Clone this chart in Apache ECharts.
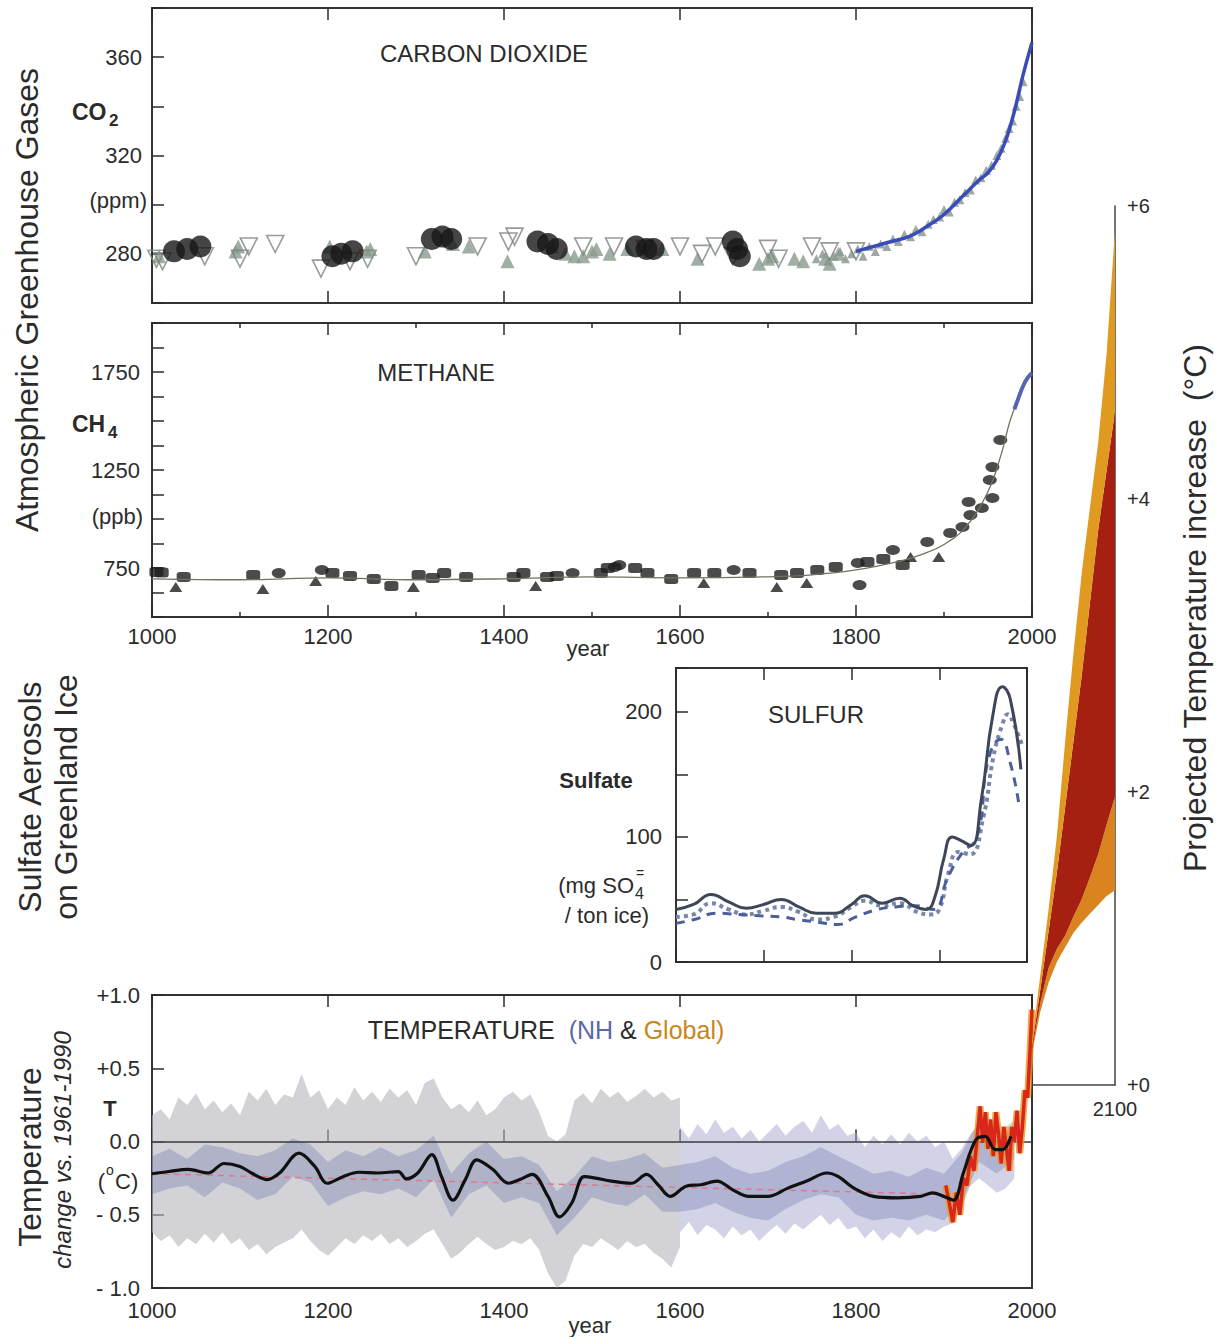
<!DOCTYPE html>
<html>
<head>
<meta charset="utf-8">
<title>Greenhouse gases, sulfate and temperature 1000-2100</title>
<script src="https://cdn.jsdelivr.net/npm/echarts@6.0.0/dist/echarts.min.js"></script>
<style>
  html, body { margin: 0; padding: 0; background: #fff; }
  #chart { width: 1217px; height: 1337px; }
</style>
</head>
<body>
<div id="chart"></div>
<script>
// ---- tick labels
var yearLabels = [1000, 1200, 1400, 1600, 1800, 2000];
var co2LabelValues = [280, 320, 360];
var ch4LabelValues = [750, 1250, 1750];
var sulfLabelValues = [0, 100, 200];
var tempTickValues = [-1, -0.5, 0, 0.5, 1];
var tempTickLabels = ['- 1.0', '- 0.5', '0.0', '+0.5', '+1.0'];
var projTickValues = [0, 2, 4, 6];
var projTickLabels = ['+0', '+2', '+4', '+6'];

// ---- carbon dioxide (ppm)
var co2Circles = [[1025,281],[1040,282],[1055,283],[1205,279],[1215,280],[1228,281],[1318,286],[1330,287],[1340,286],
  [1438,285],[1450,284],[1460,282],[1550,283],[1562,282],[1570,282],[1660,285],[1665,282],[1668,279]];
var co2UpTri = [[1008,279],[1095,281],[1098,283],[1202,283],[1244,281],[1248,282],[1310,281],[1342,284],[1360,283],
  [1404,277],[1455,283],[1470,280],[1480,279],[1490,279],[1500,281],[1505,282],[1520,280],[1540,282],[1580,282],
  [1620,278],[1690,276],[1700,278],[1705,279],[1730,278],[1740,277],[1765,278],[1770,276],[1780,280]];
var co2DownTri = [[1005,278],[1012,277],[1060,279],[1100,278],[1110,283],[1140,284],[1192,274],[1225,277],[1245,278],
  [1300,279],[1370,283],[1405,285],[1412,287],[1490,283],[1525,283],[1560,282],[1600,283],[1625,280],[1640,283],
  [1660,279],[1700,282],[1712,278],[1750,283],[1770,281],[1800,281]];
var co2Recent = [[1755,278],[1762,280],[1768,277],[1775,279],[1782,281],[1788,278],[1795,280],[1802,282],[1808,279],
  [1815,283],[1822,281],[1828,284],[1835,283],[1842,286],[1848,285],[1855,288],[1862,287],[1868,290],[1875,289],
  [1882,292],[1888,294],[1895,295],[1900,298],[1906,297],[1912,301],[1918,302],[1924,305],[1930,306],[1936,310],
  [1942,311],[1948,314],[1954,316],[1960,320],[1965,323],[1970,327],[1974,331],[1978,334],[1982,340],[1986,344],[1990,350]];
var co2BlueYears = [1800,1820,1840,1860,1880,1900,1920,1940,1950,1960,1970,1980,1990,2000];
var co2Blue = [281,283,285,287,291,296,303,310,313,318,326,338,353,366];

// ---- methane (ppb)
var ch4Squares = [[1005,730],[1011,727],[1036,704],[1115,714],[1205,724],[1225,709],[1252,694],[1272,658],[1303,714],
  [1319,699],[1332,724],[1357,704],[1411,704],[1422,724],[1449,704],[1460,709],[1510,724],[1518,750],[1549,750],
  [1563,724],[1590,694],[1616,724],[1639,724],[1679,724],[1715,714],[1733,724],[1756,740],[1777,755],[1813,781],
  [1831,796],[1853,765]];
var ch4Triangles = [[1027,653],[1126,643],[1186,684],[1297,653],[1436,658],[1627,673],[1710,653],[1744,673],[1862,806],[1894,806]];
var ch4Circles = [[1144,724],[1193,740],[1478,724],[1526,755],[1531,765],[1661,740],[1802,776],[1804,663],[1842,842],
  [1881,883],[1907,929],[1921,959],[1930,1020],[1928,1087],[1943,1056],[1955,1107],[1952,1199],[1955,1265],[1964,1403]];
var ch4LineYears = [1000,1100,1200,1300,1400,1500,1600,1700,1750,1800,1850,1875,1900,1925,1950,1965,1975,1985,1993,2000];
var ch4Line = [695,690,700,690,695,705,700,705,715,740,785,820,870,960,1140,1330,1500,1620,1700,1745];
var ch4BlueYears = [1980,1985,1990,1995,2000];
var ch4Blue = [1560,1622,1680,1720,1745];

// ---- sulfate (mg SO4 / ton ice)
var sulfSolidYears = [1600,1620,1640,1660,1680,1700,1720,1740,1760,1780,1800,1815,1835,1855,1870,1885,1895,1905,1915,1925,1936,1948,1961,1972,1981,1993];
var sulfSolid = [42,46,54,48,43,46,50,44,39,39,46,53,47,51,45,42,52,82,100,97,93,130,197,220,210,154];
var sulfDotYears = [1600,1620,1640,1660,1680,1700,1720,1740,1760,1780,1800,1815,1835,1855,1875,1890,1900,1910,1922,1935,1950,1962,1972,1978,1985,1995];
var sulfDot = [36,38,47,42,38,41,44,40,34,36,44,49,45,47,40,38,42,70,88,86,115,165,190,198,190,172];
var sulfDashYears = [1600,1621,1646,1670,1696,1720,1738,1760,1784,1805,1830,1850,1872,1893,1910,1926,1943,1956,1970,1981,1991];
var sulfDash = [31,34,39,38,37,36,34,32,30,36,42,44,45,42,68,87,100,162,178,159,125];

// ---- temperature anomaly (deg C vs 1961-1990)
var greyYears = [1000,1010,1020,1030,1040,1050,1060,1070,1080,1090,1100,1110,1120,1130,1140,1150,1160,1170,1180,1190,
  1200,1210,1220,1230,1240,1250,1260,1270,1280,1290,1300,1310,1320,1330,1340,1350,1360,1370,1380,1390,
  1400,1410,1420,1430,1440,1450,1460,1470,1480,1490,1500,1510,1520,1530,1540,1550,1560,1570,1580,1590,1600];
var greyHi = [0.18,0.22,0.15,0.30,0.25,0.33,0.22,0.28,0.20,0.26, 0.18,0.34,0.28,0.36,0.25,0.32,0.30,0.46,0.30,0.35,
  0.22,0.30,0.25,0.37,0.28,0.34,0.27,0.36,0.30,0.35, 0.25,0.40,0.43,0.30,0.22,0.26,0.20,0.28,0.18,0.22,
  0.30,0.34,0.28,0.32,0.20,0.04,0.00,0.05,0.28,0.33, 0.26,0.36,0.30,0.34,0.27,0.31,0.36,0.30,0.34,0.28, 0.30];
var greyLo = [-0.62,-0.68,-0.64,-0.72,-0.66,-0.70,-0.63,-0.69,-0.62,-0.70, -0.66,-0.74,-0.70,-0.77,-0.72,-0.69,-0.66,-0.60,-0.68,-0.74,
  -0.78,-0.72,-0.66,-0.70,-0.64,-0.68,-0.63,-0.70,-0.66,-0.72, -0.68,-0.63,-0.60,-0.70,-0.80,-0.76,-0.70,-0.65,-0.70,-0.74,
  -0.72,-0.68,-0.70,-0.66,-0.74,-0.90,-1.00,-0.95,-0.78,-0.70, -0.72,-0.66,-0.70,-0.74,-0.68,-0.72,-0.70,-0.76,-0.80,-0.86, -0.72];
var blueYears = [1600,1610,1620,1630,1640,1650,1660,1670,1680,1690,1700,1710,1720,1730,1740,1750,1760,1770,1780,1790,
  1800,1810,1820,1830,1840,1850,1860,1870,1880,1890,1900,1910,1920,1930,1940,1950,1960,1970,1980];
var blueHi = [0.10,0.02,0.12,0.05,0.15,0.06,0.10,0.02,0.08,0.00, 0.06,0.12,0.04,0.10,0.14,0.06,0.18,0.08,0.12,0.04,
  0.06,-0.04,0.04,-0.02,0.05,-0.02,0.06,0.00,0.04,-0.04, 0.00,-0.12,-0.05,0.05,0.12,0.10,0.05,0.08,0.05];
var blueLo = [-0.62,-0.55,-0.64,-0.57,-0.60,-0.66,-0.58,-0.64,-0.60,-0.68, -0.62,-0.57,-0.63,-0.56,-0.60,-0.55,-0.50,-0.57,-0.52,-0.60,
  -0.58,-0.66,-0.60,-0.68,-0.62,-0.66,-0.58,-0.64,-0.60,-0.62, -0.58,-0.56,-0.45,-0.30,-0.25,-0.30,-0.35,-0.32,-0.25];
var nhYears = [1000,1020,1040,1060,1080,1100,1120,1140,1160,1180,1200,1220,1240,1260,1280,1300,1320,1340,1360,1380,
  1400,1420,1440,1460,1480,1500,1520,1540,1560,1580,1600,1620,1640,1660,1680,1700,1720,1740,1760,1780,
  1800,1820,1840,1860,1880,1900,1920,1940,1960,1980];
var nhHi = [-0.10,-0.05,-0.12,-0.02,-0.04,-0.08,-0.10,-0.06,0.02,-0.02, -0.14,-0.06,-0.10,-0.04,-0.10,-0.06,0.04,-0.22,-0.08,0.00,
  -0.12,-0.10,-0.16,-0.34,-0.24,-0.10,-0.14,-0.12,-0.08,-0.18, -0.16,-0.14,-0.10,-0.18,-0.22,-0.20,-0.14,-0.10,-0.04,-0.10,
  -0.16,-0.22,-0.20,-0.24,-0.18,-0.22,-0.08,0.15,0.06,0.14];
var nhLo = [-0.36,-0.32,-0.30,-0.38,-0.28,-0.32,-0.40,-0.36,-0.24,-0.28, -0.44,-0.38,-0.34,-0.36,-0.32,-0.38,-0.26,-0.52,-0.36,-0.30,
  -0.42,-0.38,-0.42,-0.64,-0.52,-0.38,-0.42,-0.44,-0.36,-0.48, -0.48,-0.46,-0.42,-0.48,-0.52,-0.54,-0.46,-0.40,-0.36,-0.38,
  -0.50,-0.54,-0.52,-0.54,-0.50,-0.54,-0.42,-0.14,-0.22,-0.12];
var smoothYears = [1000,1019,1041,1064,1082,1100,1113,1131,1145,1167,1185,1199,1217,1235,1257,1280,1289,1302,1318,1329,
  1342,1356,1369,1387,1405,1418,1432,1450,1463,1477,1491,1504,1522,1545,1562,1575,1589,1607,1624,1642,
  1660,1678,1700,1722,1744,1767,1780,1798,1820,1847,1873,1887,1900,1911,1922,1936,1947,1958,1967,1976];
var smoothT = [-0.22,-0.205,-0.19,-0.215,-0.15,-0.17,-0.215,-0.26,-0.215,-0.08, -0.17,-0.285,-0.24,-0.21,-0.215,-0.205,-0.255,-0.215,-0.09,-0.24,
  -0.40,-0.26,-0.125,-0.19,-0.285,-0.26,-0.225,-0.375,-0.515,-0.42, -0.24,-0.25,-0.27,-0.285,-0.225,-0.295,-0.375,-0.305,-0.295,-0.27,
  -0.33,-0.375,-0.375,-0.32,-0.27,-0.215,-0.24,-0.32,-0.375,-0.385, -0.375,-0.35,-0.375,-0.40,-0.215,0.01,0.035,-0.055,-0.055,0.035];
var trendYears = [1000, 1900];
var trendT = [-0.22, -0.36];
var instrYears = [1902,1906,1910,1914,1918,1922,1926,1930,1934,1938,1941,1944,1947,1950,1953,1956,1959,1962,1965,1968,
  1971,1974,1977,1980,1983,1986,1989,1992,1995,1998,2000];
var instrT = [-0.30,-0.42,-0.55,-0.35,-0.50,-0.25,-0.30,-0.10,-0.20,0.05,0.24,0.00,0.20,-0.05,0.15,-0.10,0.20,0.05,-0.15,0.10,
  -0.05,-0.20,0.10,0.00,0.21,-0.08,0.10,0.35,0.30,0.65,0.90];

// ---- projected warming 2000-2100 (deg C)
var fanYears = [2000,2010,2020,2030,2040,2050,2060,2070,2080,2090,2100];
var fanLow = [0.22,0.50,0.70,0.84,0.94,1.04,1.11,1.17,1.23,1.29,1.33];
var fanMidLow = [0.24,0.56,0.80,0.93,1.02,1.15,1.27,1.42,1.58,1.78,1.97];
var fanMidHigh = [0.26,0.65,1.05,1.45,1.90,2.35,2.80,3.30,3.80,4.20,4.60];
var fanHigh = [0.30,0.75,1.20,1.70,2.35,2.95,3.50,3.95,4.40,5.00,5.84];

var FONT = '"Liberation Sans", Arial, Helvetica, sans-serif';
var INK = '#2b2b2b';

function pairs(xs, ys) {
  return xs.map(function (x, i) { return [x, ys[i]]; });
}

var tick = { show: true, inside: true, length: 12, lineStyle: { color: INK, width: 1.5 } };
var noSplit = { show: false };
var labelStyle = { color: INK, fontSize: 22, fontFamily: FONT };

function frameX(grid, pos, min, max, interval, labels) {
  return {
    type: 'value', gridIndex: grid, position: pos, min: min, max: max, interval: interval,
    axisLine: { show: false }, axisTick: tick, splitLine: noSplit,
    axisLabel: labels ? Object.assign({ margin: labels, formatter: function (v) {
      return yearLabels.indexOf(v) >= 0 ? String(v) : '';
    } }, labelStyle) : { show: false }
  };
}
function frameY(grid, min, max, interval, shown, margin) {
  return {
    type: 'value', gridIndex: grid, min: min, max: max, interval: interval,
    axisLine: { show: false }, axisTick: tick, splitLine: noSplit,
    axisLabel: Object.assign({ margin: margin, formatter: function (v) {
      return shown.indexOf(v) >= 0 ? String(v) : '';
    } }, labelStyle)
  };
}
function txt(x, y, text, size, style, rot) {
  return {
    type: 'text', x: x, y: y, rotation: rot || 0, z: 50,
    style: Object.assign({ text: text, fontSize: size, fontFamily: FONT, fill: INK, align: 'center', verticalAlign: 'middle' }, style || {})
  };
}
// filled band between two curves, drawn as one polygon through the axis scales
function band(xi, yi, xs, hi, lo, color, z) {
  return {
    type: 'custom', xAxisIndex: xi, yAxisIndex: yi, silent: true, z: z, clip: true,
    data: [[xs[0], lo[0]]], encode: { x: 0, y: 1 },
    renderItem: function (params, api) {
      var pts = [];
      for (var j = 0; j < xs.length; j++) pts.push(api.coord([xs[j], hi[j]]));
      for (var k = xs.length - 1; k >= 0; k--) pts.push(api.coord([xs[k], lo[k]]));
      return { type: 'polygon', shape: { points: pts }, style: { fill: color, stroke: null } };
    }
  };
}

var myChart = echarts.init(document.getElementById('chart'), null, { renderer: 'svg' });

var frame = { show: true, borderColor: '#333', borderWidth: 2, backgroundColor: 'transparent', containLabel: false, outerBoundsMode: 'none' };

var tempYAxis = {
  type: 'value', gridIndex: 3, min: -1, max: 1, interval: 0.5,
  axisLine: { show: false }, axisTick: tick, splitLine: noSplit,
  axisLabel: Object.assign({ margin: 12, formatter: function (v) {
    var i = tempTickValues.indexOf(v);
    return i >= 0 ? tempTickLabels[i] : '';
  } }, labelStyle)
};

var series = [];

// CO2 panel
series.push(
  { type: 'scatter', xAxisIndex: 0, yAxisIndex: 0, data: co2Recent, symbol: 'triangle', symbolSize: 9,
    itemStyle: { color: '#8c9a95', opacity: 0.85 }, silent: true },
  { type: 'line', xAxisIndex: 0, yAxisIndex: 0, data: pairs(co2BlueYears, co2Blue), smooth: 0.4, symbol: 'none',
    lineStyle: { color: '#3a4cb8', width: 3.5 }, silent: true },
  { type: 'scatter', xAxisIndex: 0, yAxisIndex: 0, data: co2UpTri, symbol: 'triangle', symbolSize: 14,
    itemStyle: { color: '#8a9a8c' }, silent: true },
  { type: 'scatter', xAxisIndex: 0, yAxisIndex: 0, data: co2DownTri, symbol: 'triangle', symbolRotate: 180, symbolSize: 17,
    itemStyle: { color: 'rgba(255,255,255,0)', borderColor: '#7c8480', borderWidth: 1.6 }, silent: true },
  { type: 'scatter', xAxisIndex: 0, yAxisIndex: 0, data: co2Circles, symbol: 'circle', symbolSize: 22,
    itemStyle: { color: '#161616' }, silent: true }
);

// CH4 panel
series.push(
  { type: 'line', xAxisIndex: 2, yAxisIndex: 1, data: pairs(ch4LineYears, ch4Line), smooth: 0.4, symbol: 'none',
    lineStyle: { color: '#6b7560', width: 1.3 }, silent: true },
  { type: 'line', xAxisIndex: 2, yAxisIndex: 1, data: pairs(ch4BlueYears, ch4Blue), smooth: 0.4, symbol: 'none',
    lineStyle: { color: '#5566b0', width: 4 }, silent: true },
  { type: 'scatter', xAxisIndex: 2, yAxisIndex: 1, data: ch4Squares, symbol: 'roundRect', symbolSize: [14, 10],
    itemStyle: { color: '#1e1e1e' }, silent: true },
  { type: 'scatter', xAxisIndex: 2, yAxisIndex: 1, data: ch4Triangles, symbol: 'triangle', symbolSize: [13, 10],
    itemStyle: { color: '#1e1e1e' }, silent: true },
  { type: 'scatter', xAxisIndex: 2, yAxisIndex: 1, data: ch4Circles, symbol: 'circle', symbolSize: [14, 10],
    itemStyle: { color: '#1e1e1e' }, silent: true }
);

// sulfur panel
series.push(
  { type: 'line', xAxisIndex: 4, yAxisIndex: 2, data: pairs(sulfDotYears, sulfDot), smooth: 0.5, symbol: 'none',
    lineStyle: { color: '#7786aa', width: 4, type: 'dotted' }, silent: true },
  { type: 'line', xAxisIndex: 4, yAxisIndex: 2, data: pairs(sulfDashYears, sulfDash), smooth: 0.5, symbol: 'none',
    lineStyle: { color: '#4c5e9c', width: 3, type: [9, 7] }, silent: true },
  { type: 'line', xAxisIndex: 4, yAxisIndex: 2, data: pairs(sulfSolidYears, sulfSolid), smooth: 0.5, symbol: 'none',
    lineStyle: { color: '#3e4759', width: 3 }, silent: true }
);

// temperature panel
series.push(
  band(6, 3, greyYears, greyHi, greyLo, 'rgba(180,180,188,0.6)', 2),
  band(6, 3, blueYears, blueHi, blueLo, 'rgba(165,168,205,0.5)', 2),
  band(6, 3, nhYears, nhHi, nhLo, 'rgba(100,108,165,0.3)', 3),
  { type: 'line', xAxisIndex: 6, yAxisIndex: 3, data: pairs(trendYears, trendT), symbol: 'none',
    lineStyle: { color: '#e0788c', width: 1.5, type: [6, 5] }, silent: true, z: 4 },
  { type: 'line', xAxisIndex: 6, yAxisIndex: 3, data: pairs(instrYears, instrT), symbol: 'none',
    lineStyle: { color: '#eb9a22', width: 7, opacity: 0.8 }, silent: true, z: 5 },
  { type: 'line', xAxisIndex: 6, yAxisIndex: 3, data: pairs(instrYears, instrT), symbol: 'none',
    lineStyle: { color: '#d8261a', width: 3.5 }, silent: true, z: 5 },
  { type: 'line', xAxisIndex: 6, yAxisIndex: 3, data: pairs(smoothYears, smoothT), smooth: 0.35, symbol: 'none',
    lineStyle: { color: '#111', width: 3.2 }, silent: true, z: 6,
    markLine: { silent: true, symbol: 'none', label: { show: false },
      lineStyle: { color: '#3a3a3a', width: 1.5, type: 'solid' }, data: [{ yAxis: 0 }] } }
);

// projection fan
series.push(
  band(8, 4, fanYears, fanMidLow, fanLow, '#d9841e', 8),
  band(8, 4, fanYears, fanMidHigh, fanMidLow, '#a52010', 8),
  band(8, 4, fanYears, fanHigh, fanMidHigh, '#e09a20', 8)
);

myChart.setOption({
  animation: false,
  backgroundColor: '#fff',
  grid: [
    Object.assign({ left: 152, top: 8, width: 880, height: 295 }, frame),
    Object.assign({ left: 152, top: 323, width: 880, height: 294 }, frame),
    Object.assign({ left: 676, top: 668, width: 351, height: 294 }, frame),
    Object.assign({ left: 152, top: 995, width: 880, height: 293 }, frame),
    { left: 1032, top: 206, width: 83, height: 879, show: false, containLabel: false, outerBoundsMode: 'none' }
  ],
  xAxis: [
    frameX(0, 'bottom', 1000, 2000, 200, 0),
    frameX(0, 'top', 1000, 2000, 200, 0),
    Object.assign(frameX(1, 'bottom', 1000, 2000, 200, 8), { minorTick: { show: true, splitNumber: 2, length: 5, lineStyle: { color: INK, width: 1.5 } } }),
    Object.assign(frameX(1, 'top', 1000, 2000, 200, 0), { minorTick: { show: true, splitNumber: 2, length: 5, lineStyle: { color: INK, width: 1.5 } } }),
    frameX(2, 'bottom', 1600, 2000, 100, 0),
    frameX(2, 'top', 1600, 2000, 100, 0),
    frameX(3, 'bottom', 1000, 2000, 200, 11),
    frameX(3, 'top', 1000, 2000, 200, 0),
    {
      type: 'value', gridIndex: 4, min: 2000, max: 2100, interval: 100,
      axisLine: { show: true, lineStyle: { color: '#444', width: 1.5 } }, axisTick: { show: false }, splitLine: noSplit,
      axisLabel: Object.assign({ margin: 14, formatter: function (v) { return v === 2100 ? '2100' : ''; } }, labelStyle, { fontSize: 20 })
    }
  ],
  yAxis: [
    frameY(0, 260, 380, 20, co2LabelValues, 10),
    frameY(1, 500, 2000, 125, ch4LabelValues, 12),
    frameY(2, 0, 235, 50, sulfLabelValues, 14),
    tempYAxis,
    {
      type: 'value', gridIndex: 4, position: 'right', min: 0, max: 6, interval: 2,
      axisLine: { show: true, lineStyle: { color: '#444', width: 1.5 } }, axisTick: { show: false }, splitLine: noSplit,
      axisLabel: Object.assign({ margin: 12, formatter: function (v) {
        var i = projTickValues.indexOf(v);
        return i >= 0 ? projTickLabels[i] : '';
      } }, labelStyle, { fontSize: 20 })
    }
  ],
  graphic: [
    txt(27, 300, 'Atmospheric Greenhouse Gases', 32, null, Math.PI / 2),
    txt(30, 797, 'Sulfate Aerosols', 32, null, Math.PI / 2),
    txt(66, 797, 'on Greenland Ice', 32, null, Math.PI / 2),
    txt(30, 1157, 'Temperature', 32, null, Math.PI / 2),
    txt(62, 1150, 'change vs. 1961-1990', 24, { fontStyle: 'italic' }, Math.PI / 2),
    txt(1195, 608, 'Projected Temperature increase  (\u00B0C)', 32, null, Math.PI / 2),

    txt(484, 53, 'CARBON DIOXIDE', 24),
    txt(436, 372, 'METHANE', 24),
    txt(816, 714, 'SULFUR', 24),
    txt(546, 1030, '{a|TEMPERATURE  }{b|(NH}{a| & }{c|Global)}', 25, {
      rich: {
        a: { fontSize: 25, fontFamily: FONT, fill: INK },
        b: { fontSize: 25, fontFamily: FONT, fill: '#5b6aa6' },
        c: { fontSize: 25, fontFamily: FONT, fill: '#c9861c' }
      }
    }),

    txt(72, 112, 'CO', 23, { fontWeight: 'bold', align: 'left' }),
    txt(109, 120, '2', 17, { fontWeight: 'bold', align: 'left' }),
    txt(147, 200, '(ppm)', 22, { align: 'right' }),
    txt(72, 424, 'CH', 23, { fontWeight: 'bold', align: 'left' }),
    txt(108, 432, '4', 17, { fontWeight: 'bold', align: 'left' }),
    txt(143, 516, '(ppb)', 22, { align: 'right' }),
    txt(588, 648, 'year', 22),
    txt(596, 780, 'Sulfate', 22, { fontWeight: 'bold' }),
    txt(634, 885, '(mg SO', 22, { align: 'right' }),
    txt(635, 893, '4', 16, { align: 'left' }),
    txt(636, 873, '=', 14, { align: 'left' }),
    txt(607, 915, '/ ton ice)', 22),
    txt(110, 1108, 'T', 22, { fontWeight: 'bold' }),
    txt(105, 1181, '(', 22, { align: 'right' }),
    txt(106, 1170, 'o', 14, { align: 'left' }),
    txt(115, 1181, 'C)', 22, { align: 'left' }),
    txt(590, 1325, 'year', 22)
  ],
  series: series
});
</script>
</body>
</html>
